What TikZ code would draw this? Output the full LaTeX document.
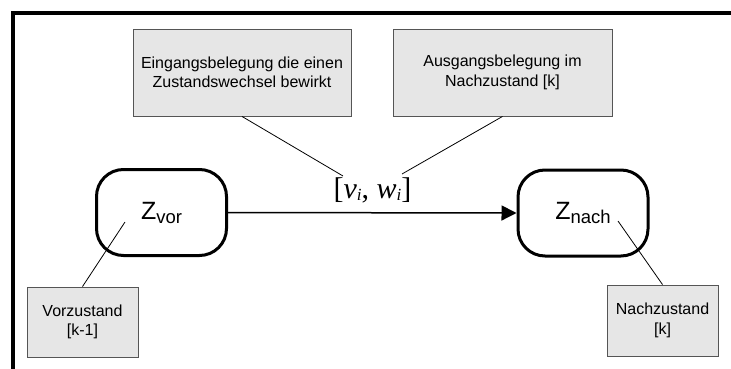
\documentclass[tikz,border=0pt]{standalone}
\usepackage{fontspec}
\setmainfont{Liberation Sans}
\newfontfamily\serifit{Liberation Serif}
\usetikzlibrary{arrows.meta}
\definecolor{boxfill}{RGB}{230,230,230}
\definecolor{boxdraw}{RGB}{85,85,85}
\tikzset{
  notebox/.style={draw=boxdraw, fill=boxfill, line width=0.9pt, inner sep=0pt, align=center,
    font=\fontsize{16}{19.5}\selectfont},
  statebox/.style={draw=black, line width=3pt, rounded corners=27pt, inner sep=0pt,
    minimum width=130pt, minimum height=86pt},
  leader/.style={draw=black, line width=0.8pt},
  frameline/.style={draw=black, line width=4pt, line join=miter},
}
\newcommand{\Zsub}[1]{{\fontsize{25}{25}\selectfont Z\raisebox{-4pt}{\fontsize{18.5}{18.5}\selectfont #1}}}
\begin{document}
\begin{tikzpicture}[x=1pt, y=-1pt]
\useasboundingbox (0,0) rectangle (731,369);
% frame
\coordinate (fbl) at (13,369);
\coordinate (ftl) at (13,13);
\coordinate (ftr) at (731,13);
\draw[frameline] (fbl) -- (ftl) -- (ftr);
% note boxes
\node[notebox, minimum width=218pt, minimum height=87pt] (in) at (242,72.5)
  {Eingangsbelegung die einen\\Zustandswechsel bewirkt};
\node[notebox, minimum width=219pt, minimum height=87pt] (out) at (502.5,72.5)
  {Ausgangsbelegung im\\Nachzustand [k]};
\node[notebox, minimum width=111pt, minimum height=70pt] (pre) at (82.5,322)
  {Vorzustand\\\relax{}[k-1]};
\node[notebox, minimum width=111pt, minimum height=71pt] (post) at (662.5,320.5)
  {Nachzustand\\\relax{}[k]};
% states
\node[statebox] (zvor) at (161.5,212.5) {\Zsub{vor}};
\node[statebox] (znach) at (583,213) {\Zsub{nach}};
% transition
\draw[line width=1.5pt, -{Triangle[length=15pt,width=15pt]}] (zvor.east) -- (znach.west);
\node[inner sep=0pt] (lab) at (372.5,190)
  {\fontsize{30}{30}\selectfont\serifit [\textit{v}\raisebox{-2.5pt}{\fontsize{17}{17}\selectfont\textit{i}}, \textit{w}\raisebox{-2.5pt}{\fontsize{17}{17}\selectfont\textit{i}}]};
% leaders
\coordinate (l1) at (343,176);
\coordinate (l2) at (402,174);
\coordinate (l3) at (125,222);
\coordinate (l4) at (618,221);
\draw[leader] (in.south) -- (l1);
\draw[leader] (out.south) -- (l2);
\draw[leader] (pre.north) -- (l3);
\draw[leader] (post.north) -- (l4);
\end{tikzpicture}
\end{document}
